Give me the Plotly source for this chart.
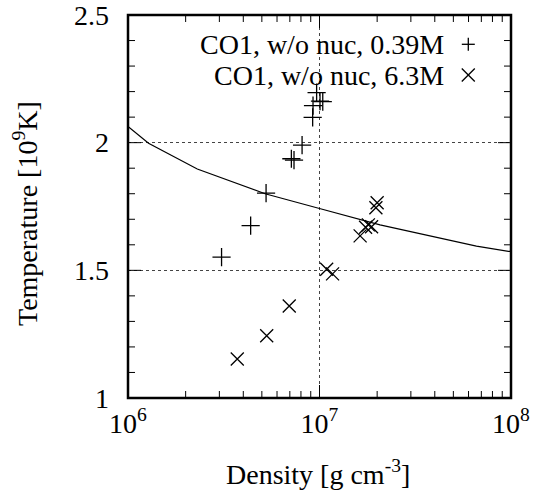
import math
import plotly.graph_objects as go

# ---- data ----
dens_039 = [3.08e6, 4.37e6, 5.26e6, 7.13e6, 7.36e6, 8.11e6, 9.21e6, 9.25e6, 9.66e6, 1.006e7, 1.04e7]
temp_039 = [1.552, 1.675, 1.802, 1.937, 1.932, 1.990, 2.099, 2.145, 2.196, 2.163, 2.161]

dens_63 = [3.72e6, 5.30e6, 6.95e6, 1.09e7, 1.17e7, 1.63e7, 1.74e7, 1.80e7, 1.87e7, 1.97e7, 2.0e7]
temp_63 = [1.153, 1.244, 1.360, 1.504, 1.486, 1.635, 1.669, 1.678, 1.671, 1.745, 1.765]

line_dens = [1e6, 1.28e6, 2.3e6, 5.2e6, 1e7, 2.07e7, 6.6e7, 1e8]
line_temp = [2.063, 1.998, 1.897, 1.800, 1.742, 1.678, 1.595, 1.573]

x_range = [1e6, 1e8]
y_range = [1.0, 2.5]
x_tickvals = [1e6, 1e7, 1e8]
x_ticktext = ["10<sup>6</sup>", "10<sup>7</sup>", "10<sup>8</sup>"]
x_minor = [m * 10 ** e for e in (6, 7) for m in range(2, 10)]
y_tickvals = [1, 1.5, 2, 2.5]
y_ticktext = ["1", "1.5", "2", "2.5"]
y_minor = [1.1, 1.2, 1.3, 1.4, 1.6, 1.7, 1.8, 1.9, 2.1, 2.2, 2.3, 2.4]

legend_labels = ["CO1, w/o nuc, 0.39M", "CO1, w/o nuc, 6.3M"]

FONT = "Liberation Serif"
FS = 28

fig = go.Figure()
fig.add_trace(go.Scatter(x=line_dens, y=line_temp, mode="lines",
                         line=dict(color="black", width=1.2), showlegend=False))
fig.add_trace(go.Scatter(x=dens_039, y=temp_039, mode="markers",
                         marker=dict(symbol="cross-thin-open", size=13, color="black",
                                     line=dict(color="black", width=1.3)),
                         showlegend=False))
fig.add_trace(go.Scatter(x=dens_63, y=temp_63, mode="markers",
                         marker=dict(symbol="x-thin-open", size=13, color="black",
                                     line=dict(color="black", width=1.3)),
                         showlegend=False))

L, R, T, B = 128, 511, 15, 398
W, H = 533, 495
pw, ph = R - L, B - T

def px(x):
    return (x - L) / pw

def py(y):
    return (B - y) / ph

lx0, lx1 = math.log10(x_range[0]), math.log10(x_range[1])

def fx(v):
    return (math.log10(v) - lx0) / (lx1 - lx0)

def fy(v):
    return (v - y_range[0]) / (y_range[1] - y_range[0])

def seg(x0, y0, x1, y1, w=1.0):
    fig.add_shape(type="line", xref="paper", yref="paper", x0=x0, y0=y0, x1=x1, y1=y1,
                  line=dict(color="black", width=w), layer="above")

MAJ, MIN = 13 / ph, 7 / ph
MAJX, MINX = 13 / pw, 7 / pw

# x ticks (bottom & top)
for v in x_tickvals:
    f = fx(v)
    seg(f, 0, f, MAJ)
    seg(f, 1, f, 1 - MAJ)
for v in x_minor:
    f = fx(v)
    seg(f, 0, f, MIN)
    seg(f, 1, f, 1 - MIN)
# y ticks (left & right)
for v in y_tickvals:
    f = fy(v)
    seg(0, f, MAJX, f)
    seg(1, f, 1 - MAJX, f)
for v in y_minor:
    f = fy(v)
    seg(0, f, MINX, f)
    seg(1, f, 1 - MINX, f)

# frame
fig.add_shape(type="rect", xref="paper", yref="paper", x0=0, x1=1, y0=0, y1=1,
              line=dict(color="black", width=2.5), layer="above")

# legend text
for lab, yy in zip(legend_labels, [44.3, 75.0]):
    fig.add_annotation(text=lab, x=px(446), y=py(yy), xref="paper", yref="paper",
                       xanchor="right", yanchor="middle", showarrow=False,
                       font=dict(family=FONT, size=FS, color="black"))

# legend key glyphs
cx, h = 468.3, 6.5
c1, c2 = 44.3, 75.0
seg(px(cx - h), py(c1), px(cx + h), py(c1), 1.3)
seg(px(cx), py(c1 - h), px(cx), py(c1 + h), 1.3)
seg(px(cx - h), py(c2 - h), px(cx + h), py(c2 + h), 1.3)
seg(px(cx - h), py(c2 + h), px(cx + h), py(c2 - h), 1.3)

# axis titles
fig.add_annotation(text="Temperature [10<sup>9</sup>K]", x=px(25), y=py(214),
                   xref="paper", yref="paper", textangle=-90, showarrow=False,
                   xanchor="center", yanchor="middle",
                   font=dict(family=FONT, size=FS, color="black"))
fig.add_annotation(text="Density [g cm<sup>-3</sup>]", x=px(318), y=py(472),
                   xref="paper", yref="paper", showarrow=False,
                   xanchor="center", yanchor="middle",
                   font=dict(family=FONT, size=FS, color="black"))

axis_common = dict(showline=False, ticks="", showgrid=True, gridcolor="#444444",
                   griddash="dot", gridwidth=1, zeroline=False, automargin=False,
                   ticklabeloverflow="allow",
                   tickfont=dict(family=FONT, size=FS, color="black"))

fig.update_xaxes(type="log", range=[lx0, lx1], tickvals=x_tickvals,
                 ticktext=x_ticktext, ticklabelstandoff=6, **axis_common)
fig.update_yaxes(range=y_range, tickvals=y_tickvals,
                 ticktext=y_ticktext, ticklabelstandoff=18, **axis_common)

fig.update_layout(width=W, height=H,
                  margin=dict(l=L, r=W - R, t=T, b=H - B, autoexpand=False),
                  plot_bgcolor="white", paper_bgcolor="white",
                  font=dict(family=FONT, size=FS, color="black"))

fig.write_html("out.html")
